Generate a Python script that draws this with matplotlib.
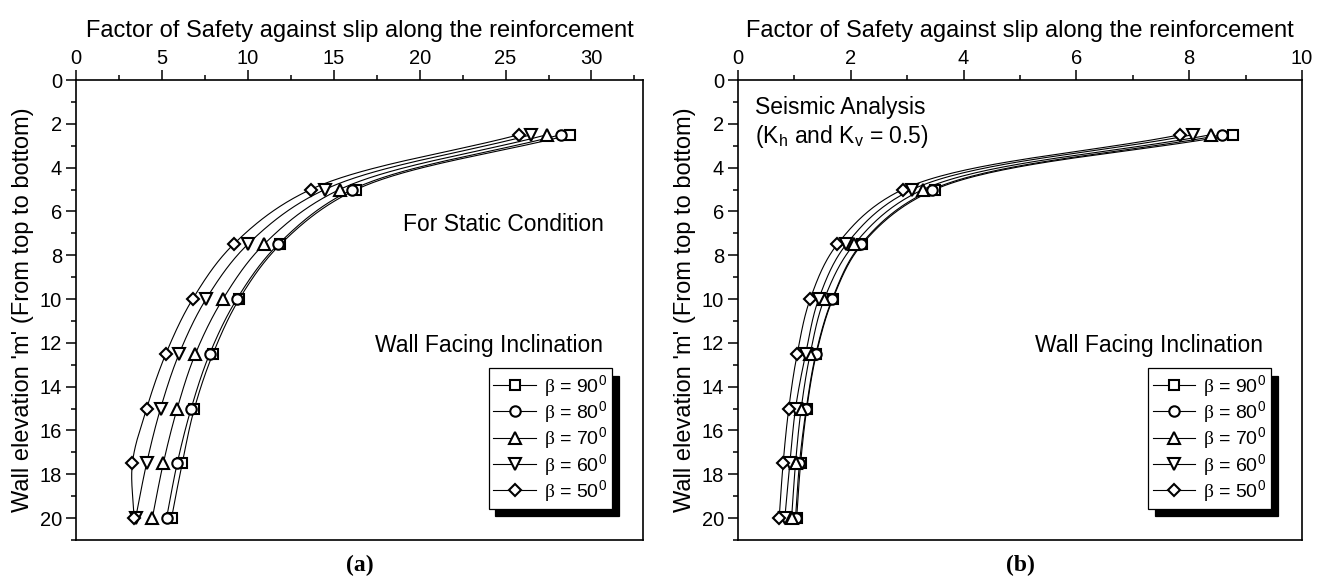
import numpy as np
import matplotlib
matplotlib.use('Agg')
import matplotlib.pyplot as plt
from matplotlib.ticker import MultipleLocator

plt.rcParams['font.family'] = ['Liberation Sans', 'DejaVu Sans']
plt.rcParams['mathtext.fontset'] = 'custom'
plt.rcParams['mathtext.rm'] = 'Liberation Serif'
plt.rcParams['mathtext.sf'] = 'Liberation Sans'
plt.rcParams['mathtext.it'] = 'Liberation Sans:italic'

# ---------------- data ----------------
depth = [2.5, 5, 7.5, 10, 12.5, 15, 17.5, 20]
beta_labels = ['90', '80', '70', '60', '50']

static_b90 = [28.76, 16.31, 11.90, 9.50, 7.97, 6.89, 6.18, 5.56]
static_b80 = [28.20, 16.08, 11.77, 9.36, 7.78, 6.70, 5.89, 5.27]
static_b70 = [27.40, 15.34, 10.94, 8.55, 6.95, 5.89, 5.08, 4.44]
static_b60 = [26.50, 14.48, 10.00, 7.57, 6.00, 4.92, 4.11, 3.47]
static_b50 = [25.77, 13.65, 9.17, 6.79, 5.23, 4.11, 3.28, 3.38]

seismic_b90 = [8.78, 3.49, 2.20, 1.68, 1.39, 1.22, 1.11, 1.04]
seismic_b80 = [8.59, 3.44, 2.18, 1.67, 1.38, 1.21, 1.09, 1.02]
seismic_b70 = [8.38, 3.28, 2.06, 1.53, 1.28, 1.12, 1.02, 0.95]
seismic_b60 = [8.06, 3.09, 1.92, 1.43, 1.20, 1.02, 0.92, 0.83]
seismic_b50 = [7.84, 2.92, 1.76, 1.28, 1.05, 0.90, 0.80, 0.73]

static_series = [static_b90, static_b80, static_b70, static_b60, static_b50]
seismic_series = [seismic_b90, seismic_b80, seismic_b70, seismic_b60, seismic_b50]

markers = ['s', 'o', '^', 'v', 'D']
msizes = [6.5, 7.5, 8, 8, 6.5]


def catmull_rom(P, n=40, alpha=0.5):
    P = np.asarray(P, float)
    P = np.vstack([2 * P[0] - P[1], P, 2 * P[-1] - P[-2]])
    out = []
    for i in range(len(P) - 3):
        p0, p1, p2, p3 = P[i:i + 4]
        t0 = 0.0
        t1 = t0 + max(np.linalg.norm(p1 - p0), 1e-6) ** alpha
        t2 = t1 + max(np.linalg.norm(p2 - p1), 1e-6) ** alpha
        t3 = t2 + max(np.linalg.norm(p3 - p2), 1e-6) ** alpha
        t = np.linspace(t1, t2, n)[:, None]
        A1 = (t1 - t) / (t1 - t0) * p0 + (t - t0) / (t1 - t0) * p1
        A2 = (t2 - t) / (t2 - t1) * p1 + (t - t1) / (t2 - t1) * p2
        A3 = (t3 - t) / (t3 - t2) * p2 + (t - t2) / (t3 - t2) * p3
        B1 = (t2 - t) / (t2 - t0) * A1 + (t - t0) / (t2 - t0) * A2
        B2 = (t3 - t) / (t3 - t1) * A2 + (t - t1) / (t3 - t1) * A3
        C = (t2 - t) / (t2 - t1) * B1 + (t - t1) / (t2 - t1) * B2
        out.append(C if i == 0 else C[1:])
    return np.vstack(out)


W, H = 1325, 586
fig = plt.figure(figsize=(W / 100, H / 100), dpi=100)

axL = fig.add_axes([76 / W, (H - 540) / H, (643 - 76) / W, 460 / H])
axR = fig.add_axes([738 / W, (H - 540) / H, (1302 - 738) / W, 460 / H])

label_fs = 17
tick_fs = 14.5


def style_axes(ax, xmax, xmajor, xminor):
    ax.set_xlim(0, xmax)
    ax.set_ylim(21, 0)
    ax.xaxis.set_major_locator(MultipleLocator(xmajor))
    ax.xaxis.set_minor_locator(MultipleLocator(xminor))
    ax.yaxis.set_major_locator(MultipleLocator(2))
    ax.yaxis.set_minor_locator(MultipleLocator(1))
    ax.xaxis.tick_top()
    ax.xaxis.set_label_position('top')
    ax.tick_params(which='both', top=True, bottom=False, left=True, right=False,
                   labeltop=True, labelbottom=False, direction='out', width=1.1,
                   labelsize=tick_fs, colors='black')
    ax.tick_params(which='major', length=7)
    ax.tick_params(which='minor', length=3.5)
    ax.tick_params(axis='x', which='major', pad=2)
    ax.tick_params(axis='y', which='major', pad=3)
    for s in ax.spines.values():
        s.set_linewidth(1.2)
    ax.set_xlabel('Factor of Safety against slip along the reinforcement',
                  fontsize=label_fs, labelpad=8)
    ax.set_ylabel("Wall elevation 'm' (From top to bottom)", fontsize=label_fs,
                  labelpad=4)


def draw_series(ax, series_list):
    handles = []
    for vals, m, ms, lab in zip(series_list, markers, msizes, beta_labels):
        pts = ax.transData.transform(np.column_stack([vals, depth]))
        curve = catmull_rom(pts)
        cd = ax.transData.inverted().transform(curve)
        ax.plot(cd[:, 0], cd[:, 1], color='black', lw=0.8, zorder=2)
        ax.plot(vals, depth, linestyle='none', marker=m, ms=ms, mfc='white',
                mec='black', mew=1.5, zorder=3)
        h, = ax.plot([], [], color='black', lw=0.8, marker=m, ms=ms, mfc='white',
                     mec='black', mew=1.5,
                     label=r'$\mathrm{\beta}$ = ' + lab + r'$^{\mathsf{0}}$')
        handles.append(h)
    return handles


def add_legend(ax, handles, anchor):
    leg = ax.legend(handles=handles, loc='upper right', bbox_to_anchor=anchor,
                    borderaxespad=0, fontsize=14, frameon=True, fancybox=False,
                    edgecolor='black', framealpha=1, handlelength=2.2,
                    handletextpad=0.4, labelspacing=0.02, borderpad=0.25,
                    shadow={'ox': 5, 'oy': -5.5, 'facecolor': 'black',
                            'edgecolor': 'black', 'alpha': 1})
    leg.get_frame().set_linewidth(0.9)
    return leg


style_axes(axL, 33, 5, 2.5)
style_axes(axR, 10, 2, 1)

hL = draw_series(axL, static_series)
hR = draw_series(axR, seismic_series)

add_legend(axL, hL, (0.945, 0.374))
add_legend(axR, hR, (0.945, 0.374))

axL.text(30.7, 6.6, 'For Static Condition', fontsize=16.5, ha='right', va='center')
axL.text(30.7, 12.1, 'Wall Facing Inclination', fontsize=16.5, ha='right', va='center')

axR.text(0.3, 1.25, 'Seismic Analysis', fontsize=16.5, ha='left', va='center')
axR.text(0.3, 2.6, r'(K$_{\mathsf{h}}$ and K$_{\mathsf{v}}$ = 0.5)', fontsize=16.5,
         ha='left', va='center')
axR.text(9.3, 12.1, 'Wall Facing Inclination', fontsize=16.5, ha='right', va='center')

fig.text((76 + 643) / 2 / W, (H - 565) / H, '(a)', fontsize=17, fontweight='bold',
         family='Liberation Serif', ha='center', va='center')
fig.text((738 + 1302) / 2 / W, (H - 565) / H, '(b)', fontsize=17, fontweight='bold',
         family='Liberation Serif', ha='center', va='center')

fig.savefig('out.png', dpi=100)
